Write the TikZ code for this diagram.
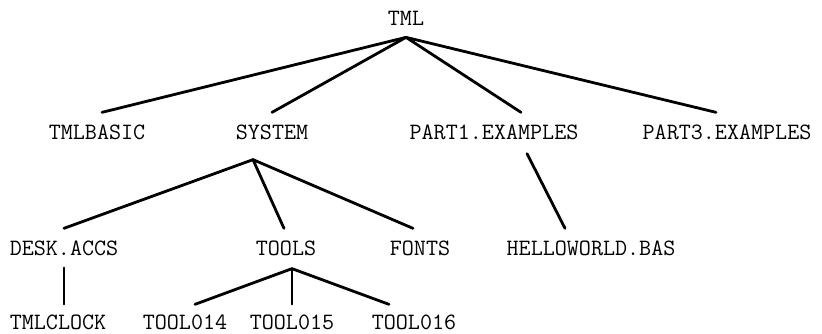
\documentclass[tikz,border=0pt]{standalone}
\usetikzlibrary{positioning}

\begin{document}
\begin{tikzpicture}[
      x=1pt, y=-1pt,
      dir/.style={font=\ttfamily\fontsize{23.4}{26}\selectfont, inner xsep=0pt, inner ysep=12pt},
      leaf/.style={dir, inner ysep=2pt},
      branch/.style={line width=2.8pt, line cap=round}
    ]
      \useasboundingbox (0,0) rectangle (822,334);

      % top level
      \node[dir] (tml)      at (406,18)  {TML};
      \node[dir] (tmlbasic) at (97,132)  {TMLBASIC};
      \node[dir] (system)   at (272,132) {SYSTEM};
      \node[dir] (part1)    at (494,132) {PART1.EXAMPLES};
      \node[dir] (part3)    at (727,132) {PART3.EXAMPLES};

      % second level
      \node[dir] (desk)  at (64,248)  {DESK.ACCS};
      \node[dir] (tools) at (286,248) {TOOLS};
      \node[dir] (fonts) at (420,248) {FONTS};
      \node[dir] (hello) at (591,248) {HELLOWORLD.BAS};

      % third level
      \node[leaf] (clock)  at (58,322)  {TMLCLOCK};
      \node[leaf] (tool14) at (185,322) {TOOL014};
      \node[leaf] (tool15) at (292,322) {TOOL015};
      \node[leaf] (tool16) at (414,322) {TOOL016};

      \coordinate (sysroot)   at ([xshift=-19pt, yshift=-8pt]system.south);
      \coordinate (toolsroot) at ([xshift=6pt, yshift=-1pt]tools.south);

      \draw[branch] (tml.south) -- ([xshift=5pt]tmlbasic.north);
      \draw[branch] (tml.south) -- (system.north);
      \draw[branch] (tml.south) -- ([xshift=27pt]part1.north);
      \draw[branch] (tml.south) -- ([xshift=-11pt]part3.north);

      \draw[branch] (sysroot) -- (desk.north);
      \draw[branch] (sysroot) -- ([xshift=-2pt]tools.north);
      \draw[branch] (sysroot) -- ([xshift=-7pt]fonts.north);
      \draw[branch] ([xshift=33pt, yshift=-2pt]part1.south) -- ([xshift=-26pt]hello.north);

      \draw[branch, line width=2pt] (desk.south) -- ([yshift=8pt]desk.south |- clock.north);
      \draw[branch] (toolsroot) -- ([xshift=10pt, yshift=8pt]tool14.north);
      \draw[branch, line width=2pt] (toolsroot) -- ([yshift=8pt]toolsroot |- tool15.north);
      \draw[branch] (toolsroot) -- ([xshift=-25pt, yshift=8pt]tool16.north);
    \end{tikzpicture}
\end{document}
